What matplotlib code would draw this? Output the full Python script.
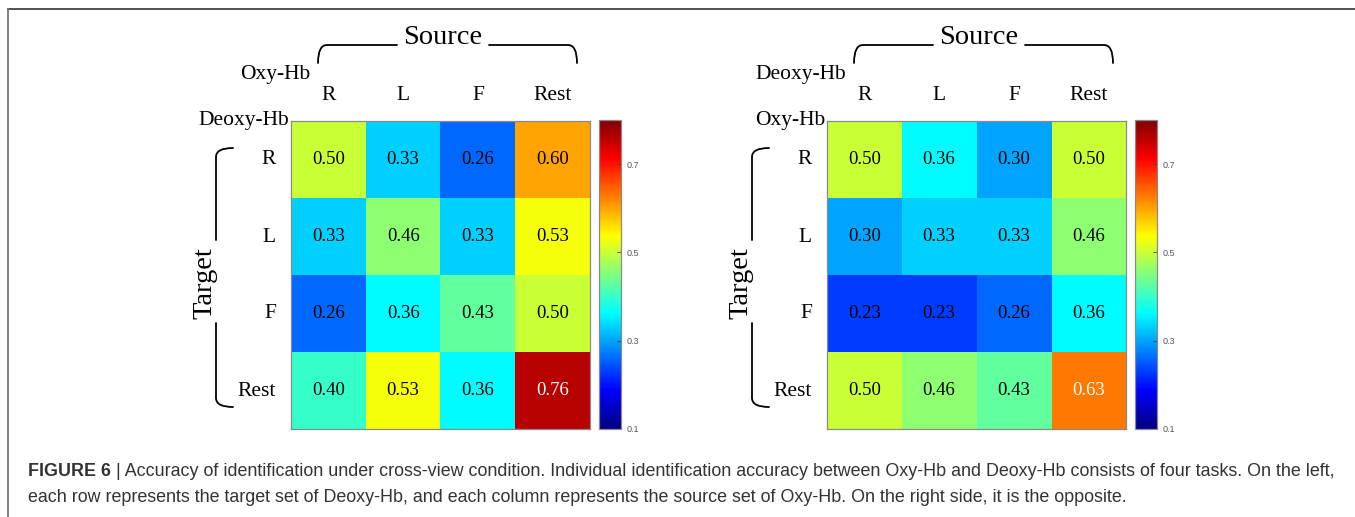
import matplotlib
matplotlib.use("Agg")
import matplotlib.pyplot as plt
import numpy as np
from matplotlib.path import Path
from matplotlib.patches import PathPatch
from matplotlib.lines import Line2D
from matplotlib.colors import ListedColormap

W, H = 1355, 517

tasks = ["R", "L", "F", "Rest"]

# rows = target, columns = source
left_vals = [
    [0.50, 0.33, 0.26, 0.60],
    [0.33, 0.46, 0.33, 0.53],
    [0.26, 0.36, 0.43, 0.50],
    [0.40, 0.53, 0.36, 0.76],
]
right_vals = [
    [0.50, 0.36, 0.30, 0.50],
    [0.30, 0.33, 0.33, 0.46],
    [0.23, 0.23, 0.26, 0.36],
    [0.50, 0.46, 0.43, 0.63],
]
cbar_ticks = [0.1, 0.3, 0.5, 0.7]
vmin, vmax = 0.1, 0.8

caption_bold = "FIGURE 6"
caption_line1 = ("| Accuracy of identification under cross-view condition. Individual identification "
                 "accuracy between Oxy-Hb and Deoxy-Hb consists of four tasks. On the left,")
caption_line2 = ("each row represents the target set of Deoxy-Hb, and each column represents the "
                 "source set of Oxy-Hb. On the right side, it is the opposite.")

SERIF = "Liberation Serif"
SANS = "Liberation Sans"

fig = plt.figure(figsize=(W / 100, H / 100), dpi=100)

# MATLAB-style jet (the matplotlib one is a bit different in the orange part)
_x = np.linspace(0, 1, 256)
_rgb = np.stack([np.clip(1.5 - np.abs(4 * _x - c), 0, 1) for c in (3, 2, 1)], axis=1)
cmap = ListedColormap(_rgb)


def fx(x):
    return x / W


def fy(y):
    return 1 - y / H


def pix_axes(x0, y0, x1, y1):
    return fig.add_axes([fx(x0), fy(y1), (x1 - x0) / W, (y1 - y0) / H])


def curve_path(pts, codes):
    verts = [(fx(x), fy(y)) for x, y in pts]
    return PathPatch(Path(verts, codes), transform=fig.transFigure, fill=False,
                     lw=1.3, color="black", capstyle="round")


def draw_panel(off, vals, top_name, side_name):
    ax = pix_axes(291 + off, 121, 590 + off, 429)
    im = ax.imshow(np.array(vals), cmap=cmap, vmin=vmin, vmax=vmax, aspect="auto")
    ax.set_xticks([])
    ax.set_yticks([])
    for s in ax.spines.values():
        s.set_color("#8a8a8a")
        s.set_linewidth(0.9)
    for i, row in enumerate(vals):
        for j, v in enumerate(row):
            ax.text(j, i, f"{v:.2f}", ha="center", va="center", family=SERIF,
                    fontsize=13.5, color="white" if v > 0.61 else "black")
    # column labels
    for j, t in enumerate(tasks):
        fig.text(fx(291 + off + 37.4 + 74.75 * j), fy(96), t, ha="center", va="center",
                 family=SERIF, fontsize=15.5)
    # row labels
    for i, t in enumerate(tasks):
        fig.text(fx(276 + off), fy(160 + 77 * i), t, ha="right", va="center",
                 family=SERIF, fontsize=15.5)
    fig.text(fx(310 + off), fy(74), top_name, ha="right", va="center", family=SERIF, fontsize=15.5)
    fig.text(fx(289 + off), fy(120), side_name, ha="right", va="center", family=SERIF, fontsize=15.5)

    # Source bracket
    fig.text(fx(443 + off), fy(38), "Source", ha="center", va="center", family=SERIF, fontsize=20.5)
    fig.add_artist(curve_path([(318 + off, 63), (318 + off, 45), (327 + off, 45), (397 + off, 45)],
                              [Path.MOVETO, Path.CURVE3, Path.CURVE3, Path.LINETO]))
    fig.add_artist(curve_path([(489 + off, 45), (568 + off, 45), (577 + off, 45), (577 + off, 63)],
                              [Path.MOVETO, Path.LINETO, Path.CURVE3, Path.CURVE3]))
    # Target bracket
    fig.text(fx(205 + off), fy(283), "Target", ha="center", va="center", rotation=90,
             family=SERIF, fontsize=20.5)
    fig.add_artist(curve_path([(233 + off, 148), (216 + off, 148), (216 + off, 157), (216 + off, 240)],
                              [Path.MOVETO, Path.CURVE3, Path.CURVE3, Path.LINETO]))
    fig.add_artist(curve_path([(216 + off, 323), (216 + off, 398), (216 + off, 407), (233 + off, 407)],
                              [Path.MOVETO, Path.LINETO, Path.CURVE3, Path.CURVE3]))

    cax = pix_axes(599 + off, 120, 621 + off, 429)
    cb = fig.colorbar(im, cax=cax, ticks=cbar_ticks)
    cb.ax.set_yticklabels([f"{t:.1f}" for t in cbar_ticks])
    cb.outline.set_edgecolor("#8a8a8a")
    cb.outline.set_linewidth(0.9)
    cb.ax.tick_params(direction="in", length=3, width=0.6, colors="#444444",
                      labelsize=6.5, pad=4)
    for lab in cb.ax.get_yticklabels():
        lab.set_family(SANS)
        lab.set_color("#555555")


draw_panel(0, left_vals, "Oxy-Hb", "Deoxy-Hb")
draw_panel(536, right_vals, "Deoxy-Hb", "Oxy-Hb")

# page frame
fig.add_artist(Line2D([fx(8), 1], [fy(8.5), fy(8.5)], transform=fig.transFigure,
                      color="#444444", lw=1.3))
fig.add_artist(Line2D([fx(8), fx(8)], [fy(8.5), 0], transform=fig.transFigure,
                      color="#777777", lw=1.3))

# caption
cap_size = 12.9
t1 = fig.text(fx(28), fy(471), caption_bold, ha="left", va="center", family=SANS,
              fontsize=cap_size, fontweight="bold", color="#333333")
fig.canvas.draw()
bb = t1.get_window_extent()
fig.text((bb.x1 + 5) / W, fy(471), caption_line1, ha="left", va="center", family=SANS,
         fontsize=cap_size, color="#333333")
fig.text(fx(28), fy(498), caption_line2, ha="left", va="center", family=SANS,
         fontsize=cap_size, color="#333333")

fig.savefig("out.png", dpi=100)
